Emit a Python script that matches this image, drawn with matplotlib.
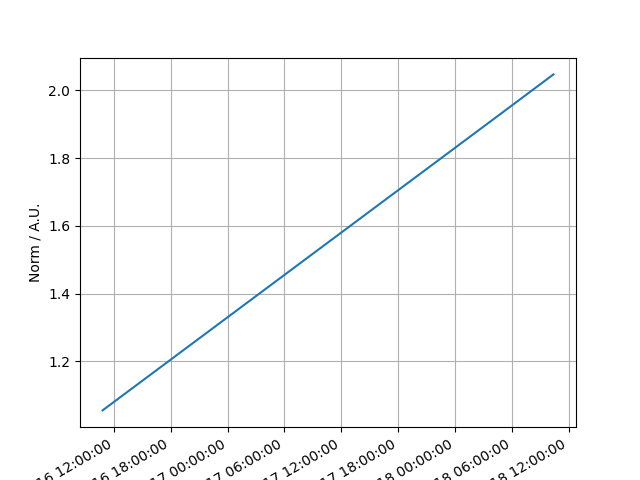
import matplotlib
matplotlib.use('Agg')
import matplotlib.pyplot as plt
import matplotlib.dates as mdates
import pandas as pd

times = ['2023-01-16 10:48', '2023-01-16 16:48', '2023-01-16 22:48',
         '2023-01-17 04:48', '2023-01-17 10:48', '2023-01-17 16:48',
         '2023-01-17 22:48', '2023-01-18 04:48', '2023-01-18 10:24']
norm = [1.055, 1.180, 1.305, 1.430, 1.555, 1.680, 1.805, 1.930, 2.047]

t = pd.to_datetime(times)

fig, ax = plt.subplots(figsize=(6.4, 4.8), dpi=100)
ax.plot(t, norm)
ax.grid(True)
ax.set_ylabel('Norm / A.U.')
ax.xaxis.set_major_locator(mdates.HourLocator(byhour=[0, 6, 12, 18]))
ax.xaxis.set_major_formatter(mdates.DateFormatter('%Y-%m-%d %H:%M:%S'))
plt.setp(ax.get_xticklabels(), rotation=30, ha='right')

fig.savefig('out.png')
